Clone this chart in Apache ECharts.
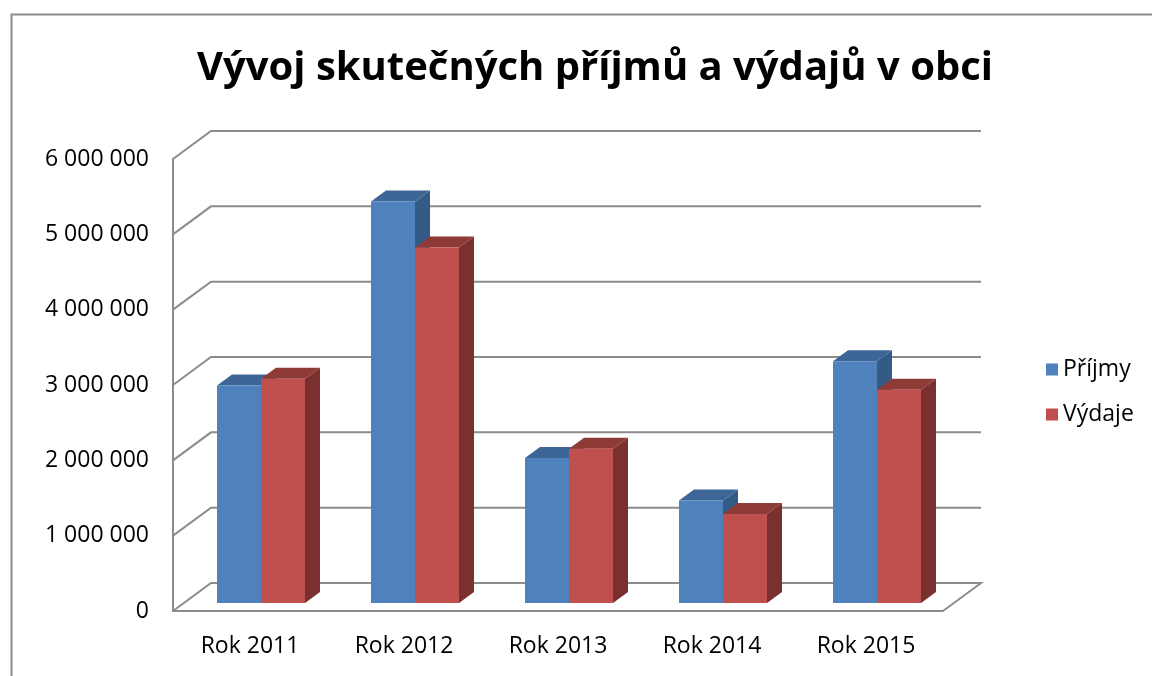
<!DOCTYPE html>
<html>
<head>
<meta charset="utf-8">
<script src="https://cdn.jsdelivr.net/npm/echarts@6/dist/echarts.min.js"></script>
<style>
  html, body { margin: 0; padding: 0; background: #fff; }
  #main { width: 1152px; height: 676px; }
</style>
</head>
<body>
<div id="main"></div>
<script>
// data
var categories = ["Rok 2011", "Rok 2012", "Rok 2013", "Rok 2014", "Rok 2015"];
var prijmy = [2887000, 5330000, 1925000, 1361000, 3210000];
var vydaje = [2976000, 4720000, 2048000, 1180000, 2830000];
var yTicks = [0, 1000000, 2000000, 3000000, 4000000, 5000000, 6000000];

var myChart = echarts.init(document.getElementById("main"));

var FONT = "Open Sans";
var WALL = [38, -28];   // hloubka zadni steny
var SHIFT = [11, -8];   // posun predni steny sloupce
var DEPTH = [15, -11];  // hloubka sloupce
var lineColor = "#8c8c8c";

function fmt(v) {
  return String(v).replace(/\B(?=(\d{3})+(?!\d))/g, " ");
}

// steny a mrizka
function renderWall(params, api) {
  var cs = params.coordSys;
  var p = api.coord([0, api.value(1)]);
  var y = p[1];
  var pts = [
    [cs.x, y],
    [cs.x + WALL[0], y + WALL[1]],
    [cs.x + cs.width + WALL[0], y + WALL[1]]
  ];
  if (api.value(1) === 0) pts.push([cs.x + cs.width, y]);
  return {
    type: "polyline",
    shape: { points: pts },
    style: { stroke: lineColor, lineWidth: 2, fill: null }
  };
}

// 3D sloupec
function makeBar(idx, front, side, top) {
  return function(params, api) {
    var i = api.value(0);
    var base = api.coord([i, 0]);
    var tp = api.coord([i, api.value(1)]);
    var bw = api.size([1, 0])[0] / 3.5;
    var x0 = base[0] - bw + idx * bw + SHIFT[0];
    var x1 = x0 + bw;
    var yb = base[1] + SHIFT[1];
    var yt = tp[1] + SHIFT[1];
    var dx = DEPTH[0], dy = DEPTH[1];
    return {
      type: "group",
      children: [
        { type: "polygon", shape: { points: [[x1, yt], [x1 + dx, yt + dy], [x1 + dx, yb + dy], [x1, yb]] }, style: { fill: side } },
        { type: "polygon", shape: { points: [[x0, yt], [x0 + dx, yt + dy], [x1 + dx, yt + dy], [x1, yt]] }, style: { fill: top } },
        { type: "rect", shape: { x: x0, y: yt, width: bw, height: yb - yt }, style: { fill: front } }
      ]
    };
  };
}

var option = {
  animation: false,
  backgroundColor: "#fff",
  graphic: [{
    type: "rect",
    left: 9, top: 12,
    shape: { width: 1160, height: 680 },
    style: { fill: null, stroke: "#8c8c8c", lineWidth: 2 },
    z: -10
  }],
  title: {
    text: "Vývoj skutečných příjmů a výdajů v obci",
    left: 590, top: 44,
    textAlign: "center",
    textStyle: { fontFamily: FONT, fontSize: 40, fontWeight: "bold", color: "#000" }
  },
  legend: {
    orient: "vertical",
    left: 1041, top: 353,
    itemWidth: 12, itemHeight: 12,
    itemGap: 22,
    icon: "rect",
    data: ["Příjmy", "Výdaje"],
    textStyle: { fontFamily: FONT, fontSize: 23, color: "#000" }
  },
  grid: { left: 173, top: 159, width: 770, height: 452 },
  xAxis: {
    type: "category",
    data: categories,
    axisLine: { lineStyle: { color: lineColor, width: 2 } },
    axisTick: { show: false },
    axisLabel: { fontFamily: FONT, fontSize: 23, color: "#000", margin: 24 }
  },
  yAxis: {
    type: "value",
    min: 0, max: 6000000, interval: 1000000,
    axisLine: { show: true, lineStyle: { color: lineColor, width: 2 } },
    axisTick: { show: false },
    splitLine: { show: false },
    axisLabel: { fontFamily: FONT, fontSize: 23, color: "#000", margin: 24, formatter: fmt }
  },
  series: [
    {
      name: "wall", type: "custom", z: 1, silent: true,
      renderItem: renderWall,
      data: yTicks.map(function(v) { return [0, v]; })
    },
    {
      name: "Příjmy", type: "custom", z: 2,
      itemStyle: { color: "#4f81bd" },
      renderItem: makeBar(0, "#4f81bd", "#345a86", "#3d6696"),
      data: prijmy.map(function(v, i) { return [i, v]; })
    },
    {
      name: "Výdaje", type: "custom", z: 3,
      itemStyle: { color: "#c0504d" },
      renderItem: makeBar(1, "#c0504d", "#7a302e", "#8e3a37"),
      data: vydaje.map(function(v, i) { return [i, v]; })
    }
  ]
};

myChart.setOption(option);
</script>
</body>
</html>
